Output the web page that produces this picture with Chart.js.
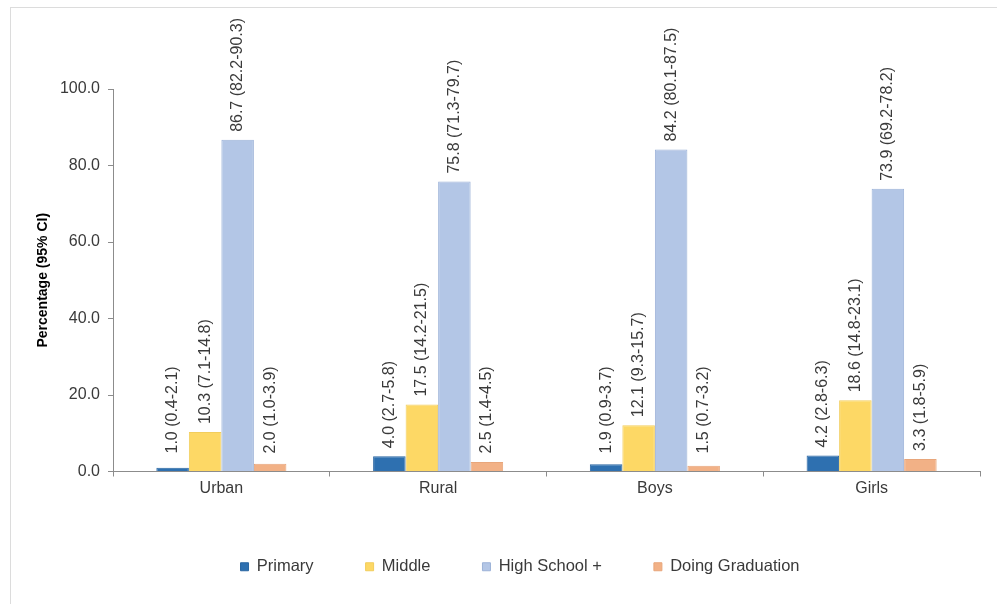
<!DOCTYPE html>
<html>
<head>
<meta charset="utf-8">
<script src="https://cdn.jsdelivr.net/npm/chart.js@4.4.0/dist/chart.umd.min.js"></script>
<style>
    html, body { margin: 0; padding: 0; background: #fff; overflow: hidden; }
    #frame {
        position: absolute;
        left: 10px;
        top: 7px;
        width: 1018px;
        height: 640px;
        border-left: 1px solid #dcdcdc;
        border-top: 1px solid #dcdcdc;
    }
    #wrap { position: relative; width: 1018px; height: 577px; }
</style>
</head>
<body>
<div id="frame"><div id="wrap"><canvas id="eduChart"></canvas></div></div>
<script>
const categories = ['Urban', 'Rural', 'Boys', 'Girls'];
const seriesNames = ['Primary', 'Middle', 'High School +', 'Doing Graduation'];

const primary = [1.0, 4.0, 1.9, 4.2];
const middle = [10.3, 17.5, 12.1, 18.6];
const highSchool = [86.7, 75.8, 84.2, 73.9];
const doingGrad = [2.0, 2.5, 1.5, 3.3];

const primaryCI = ['0.4-2.1', '2.7-5.8', '0.9-3.7', '2.8-6.3'];
const middleCI = ['7.1-14.8', '14.2-21.5', '9.3-15.7', '14.8-23.1'];
const highSchoolCI = ['82.2-90.3', '71.3-79.7', '80.1-87.5', '69.2-78.2'];
const doingGradCI = ['1.0-3.9', '1.4-4.5', '0.7-3.2', '1.8-5.9'];

const yTicks = [0, 20, 40, 60, 80, 100];

const FONT = "'Liberation Sans', Arial, sans-serif";
const TEXT = '#3a3a3a';
const AXIS = '#8c8c8c';

Chart.defaults.font.family = FONT;
Chart.defaults.color = TEXT;

// value + CI written vertically above every bar
const barLabels = {
    id: 'barLabels',
    afterDatasetsDraw(chart) {
        const ctx = chart.ctx;
        const base = chart.scales.y.getPixelForValue(0);
        ctx.save();
        ctx.font = '16px ' + FONT;
        ctx.fillStyle = TEXT;
        ctx.textAlign = 'left';
        ctx.textBaseline = 'middle';
        chart.data.datasets.forEach((ds, i) => {
            chart.getDatasetMeta(i).data.forEach((bar, j) => {
                const text = ds.data[j].toFixed(1) + ' (' + ds.ci[j] + ')';
                const y = Math.min(bar.y - 8, base - 18);
                ctx.save();
                ctx.translate(bar.x, y);
                ctx.rotate(-Math.PI / 2);
                ctx.fillText(text, 0, 0);
                ctx.restore();
            });
        });
        ctx.restore();
    }
};

const ctx = document.getElementById('eduChart').getContext('2d');

const chart = new Chart(ctx, {
    type: 'bar',
    data: {
        labels: categories,
        datasets: [
            { label: seriesNames[0], data: primary, ci: primaryCI, backgroundColor: '#2e70b0', borderColor: '#2a66a2', borderWidth: 1 },
            { label: seriesNames[1], data: middle, ci: middleCI, backgroundColor: '#fdd865', borderColor: '#f2cd5c', borderWidth: 1 },
            { label: seriesNames[2], data: highSchool, ci: highSchoolCI, backgroundColor: '#b3c6e6', borderColor: '#9cb2d8', borderWidth: 1 },
            { label: seriesNames[3], data: doingGrad, ci: doingGradCI, backgroundColor: '#f2b186', borderColor: '#e8a67b', borderWidth: 1 }
        ]
    },
    plugins: [barLabels],
    options: {
        responsive: true,
        maintainAspectRatio: false,
        animation: false,
        layout: {
            padding: { top: 81, left: 0, right: 0, bottom: 0 }
        },
        datasets: {
            bar: { categoryPercentage: 0.6, barPercentage: 1.0 }
        },
        plugins: {
            tooltip: { enabled: false },
            legend: {
                position: 'bottom',
                labels: {
                    boxWidth: 8,
                    boxHeight: 8,
                    padding: 52,
                    color: TEXT,
                    font: { size: 16.5 }
                }
            }
        },
        scales: {
            x: {
                grid: { drawOnChartArea: false, drawTicks: true, tickLength: 5, color: AXIS, offset: true },
                border: { color: AXIS },
                ticks: { padding: 2, color: TEXT, font: { size: 16 } },
                afterFit: (scale) => { scale.height = 35; }
            },
            y: {
                min: 0,
                max: 100,
                afterBuildTicks: (scale) => { scale.ticks = yTicks.map(v => ({ value: v })); },
                grid: { drawOnChartArea: false, drawTicks: true, tickLength: 5, color: AXIS },
                border: { color: AXIS },
                ticks: {
                    padding: 8,
                    color: TEXT,
                    font: { size: 16 },
                    callback: (v) => Number(v).toFixed(1)
                },
                title: {
                    display: true,
                    text: 'Percentage (95% CI)',
                    color: '#000',
                    font: { size: 14, weight: 'bold' },
                    padding: { top: 24, bottom: 0 }
                },
                afterFit: (scale) => { scale.width = 102; }
            },
            // empty strip on the right so the plot ends before the canvas edge
            yRight: {
                position: 'right',
                display: true,
                grid: { display: false },
                border: { display: false },
                ticks: { display: false },
                afterFit: (scale) => { scale.width = 49; }
            }
        }
    }
});
</script>
</body>
</html>
